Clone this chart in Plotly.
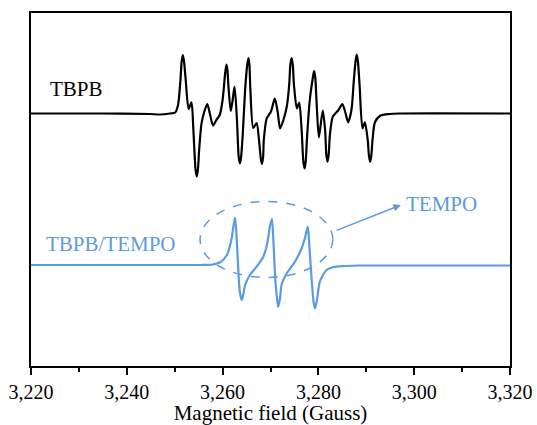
import plotly.graph_objects as go

# TBPB spectrum (field in Gauss, intensity in arbitrary units relative to its baseline)
tbpb_field = [3220.0, 3234.4, 3244.8, 3246.9, 3249.0, 3250.1, 3250.7, 3251.2, 3251.45, 3251.7,
              3251.95, 3252.3, 3252.9, 3253.5, 3253.9, 3254.35, 3254.6, 3254.85, 3255.1, 3255.6,
              3256.1, 3256.8, 3257.4, 3258.0, 3258.7, 3259.4, 3260.0, 3260.55, 3260.8, 3261.0,
              3261.2, 3261.7, 3262.1, 3262.5, 3263.0, 3263.35, 3263.6, 3263.85, 3264.2, 3264.7,
              3265.15, 3265.4, 3265.6, 3265.8, 3266.4, 3267.1, 3267.6, 3267.95, 3268.2, 3268.45,
              3268.6, 3269.2, 3270.1, 3270.9, 3271.5, 3272.0, 3272.7, 3273.4, 3273.9, 3274.15,
              3274.4, 3274.65, 3274.9, 3275.5, 3276.0, 3276.5, 3276.85, 3277.1, 3277.35, 3277.6,
              3278.2, 3278.85, 3279.1, 3279.35, 3279.6, 3280.1, 3280.9, 3281.4, 3281.65, 3281.9,
              3282.15, 3282.4, 3283.0, 3284.2, 3285.0, 3285.6, 3286.2, 3286.9, 3287.4, 3287.75,
              3288.0, 3288.25, 3288.6, 3289.2, 3289.7, 3290.3, 3290.55, 3290.8, 3291.05, 3291.3,
              3291.8, 3292.9, 3294.9, 3297.0, 3320.0]
tbpb_signal = [0, 0, -0.5, -1, 0, 1, 8.5, 33.5, 52, 58.5,
               52, 33.5, 4.5, 11.2, -16.5, -56, -63, -56, -36.5, -9.8,
               0.5, 9.5, -1.5, -12, -6.5, -1.5, 13.5, 41, 49, 44,
               28.5, 2.5, 13.5, 27, -6.5, -43, -50, -44, -21.5, 23.5,
               49, 55.5, 49, 23.5, -14.5, -9.5, -26.5, -44, -50.5, -44,
               -26.5, -5, 2, 15, 1.5, -15, -6.5, 7, 28.5, 49,
               55.5, 49, 28.5, 5, 11, -16.5, -48, -55, -48, -26.5,
               13.5, 36, 42.5, 36, 13.5, -24, 3, -16.5, -41, -48.2,
               -41, -21.5, -3.2, 3.5, 9.5, 1.5, -8.8, 3.5, 33.5, 52,
               59, 52, 28.5, -14.8, -8.8, -26.5, -42, -48.2, -42, -26.5,
               -8.8, -2.2, -0.5, 0, 0]

# TBPB/TEMPO spectrum
tempo_field = [3220.0, 3255.3, 3258.0, 3259.5, 3260.9, 3261.4, 3261.9, 3262.3, 3262.6, 3262.9,
               3263.3, 3263.6, 3264.0, 3264.3, 3264.7, 3265.7, 3267.1, 3268.5, 3269.1, 3269.5,
               3269.9, 3270.3, 3270.6, 3271.0, 3271.4, 3271.6, 3272.0, 3272.3, 3273.4, 3275.1,
               3276.5, 3277.2, 3277.8, 3278.1, 3278.6, 3279.0, 3279.3, 3279.7, 3280.3, 3281.7,
               3283.5, 3285.6, 3288.7, 3320.0]
tempo_signal = [0, 0, 0.5, 2.7, 10, 17, 26.7, 40, 47.3, 30,
                -6.7, -27, -35, -30, -20, -10, -1.7, 8.3, 17, 26.7,
                39, 46, 25, -15, -35, -41.7, -33, -20, -8.3, 3.3,
                16.7, 27, 38.3, 20, -15, -37, -43.3, -35, -16.7, -5,
                -1.7, -1, -0.5, -0.5]

offsets = {"TBPB": 252.5, "TBPB/TEMPO": 101.0}
x_ticks = [3220, 3240, 3260, 3280, 3300, 3320]

BLUE = "#5b9be0"
FONT = "Times New Roman"

fig = go.Figure()
fig.add_trace(go.Scatter(
    x=tbpb_field, y=[v + offsets["TBPB"] for v in tbpb_signal],
    mode="lines", line=dict(color="black", width=2.2, shape="spline", smoothing=0.7),
    showlegend=False, hoverinfo="skip"))
fig.add_trace(go.Scatter(
    x=tempo_field, y=[v + offsets["TBPB/TEMPO"] for v in tempo_signal],
    mode="lines", line=dict(color=BLUE, width=2.2, shape="spline", smoothing=0.7),
    showlegend=False, hoverinfo="skip"))

# dashed ellipse around the TEMPO triplet
fig.add_shape(type="circle", xref="x", yref="y",
              x0=3255.3, x1=3283.0, y0=88.5, y1=164.5,
              line=dict(color=BLUE, width=1.5, dash="dash"))

# arrow
fig.add_annotation(x=3297.2, y=161, ax=3283.5, ay=135, xref="x", yref="y",
                   axref="x", ayref="y", text="", showarrow=True,
                   arrowhead=2, arrowsize=1, arrowwidth=1.5, arrowcolor=BLUE)

# labels
fig.add_annotation(x=3223.6, y=277, xref="x", yref="y", text="TBPB", showarrow=False,
                   xanchor="left", yanchor="middle", font=dict(family=FONT, size=21, color="black"))
fig.add_annotation(x=3222.7, y=122.5, xref="x", yref="y", text="TBPB/TEMPO", showarrow=False,
                   xanchor="left", yanchor="middle", font=dict(family=FONT, size=21, color=BLUE))
fig.add_annotation(x=3297.8, y=162, xref="x", yref="y", text="TEMPO", showarrow=False,
                   xanchor="left", yanchor="middle", font=dict(family=FONT, size=21, color=BLUE))

fig.update_layout(
    width=537, height=425,
    margin=dict(l=31, r=27, t=13, b=59, autoexpand=False),
    paper_bgcolor="white", plot_bgcolor="white",
    font=dict(family=FONT, size=20, color="black"),
    xaxis=dict(range=[3220, 3320], tickvals=x_ticks, tickformat=",d", automargin=False,
               ticks="outside", ticklen=7, tickwidth=1.5, tickcolor="black",
               minor=dict(dtick=10, ticks="outside", ticklen=4, tickwidth=1.5, tickcolor="black"),
               showline=True, linecolor="black", linewidth=1.5, mirror=True,
               showgrid=False, zeroline=False,
               tickfont=dict(family=FONT, size=20, color="black"),
               title=dict(text="Magnetic field (Gauss)", standoff=3,
                          font=dict(family=FONT, size=21, color="black"))),
    yaxis=dict(range=[0, 353], showticklabels=False, ticks="", automargin=False,
               showline=True, linecolor="black", linewidth=1.5, mirror=True,
               showgrid=False, zeroline=False),
)

fig.write_html("out.html", config={"displayModeBar": False},
               post_script="document.body.style.margin='0';document.body.style.padding='0';")
